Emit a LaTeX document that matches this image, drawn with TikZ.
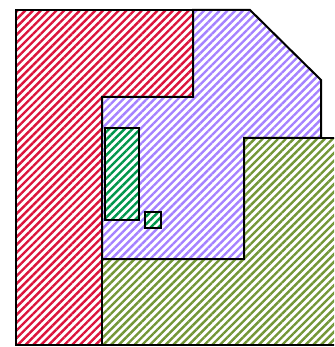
\documentclass[tikz,border=0pt]{standalone}
\usetikzlibrary{patterns.meta}
\definecolor{cred}{RGB}{220,20,60}
\definecolor{cpurple}{RGB}{165,130,255}
\definecolor{colive}{RGB}{115,150,55}
\definecolor{cgreen}{RGB}{0,150,75}
\tikzset{
  region/.style={draw=black, line width=2pt, line join=miter,
    pattern={Lines[angle=45,distance=5.5pt,line width=2.4pt]}, pattern color=#1},
}
\begin{document}
\begin{tikzpicture}[x=1pt,y=-1pt]
\useasboundingbox (0,0) rectangle (334,347);
\begin{scope}
\clip (0,0) rectangle (334,347);
% red L region
\draw[region=cred] (16,10) -- (193,10) -- (193,97) -- (102,97) -- (102,345) -- (16,345) -- cycle;
% purple region
\draw[region=cpurple] (102,97) -- (193,97) -- (193,10) -- (250,10) -- (321,80) -- (321,138) -- (244,138) -- (244,259) -- (102,259) -- cycle;
% olive region
\draw[region=colive] (244,138) -- (337,138) -- (337,345) -- (102,345) -- (102,259) -- (244,259) -- cycle;
% green rectangles
\fill[white] (104.5,128) rectangle (139,220);
\draw[region=cgreen] (104.5,128) rectangle (139,220);
\fill[white] (145,212) rectangle (161,228);
\draw[region=cgreen] (145,212) rectangle (161,228);
\end{scope}
\end{tikzpicture}
\end{document}
